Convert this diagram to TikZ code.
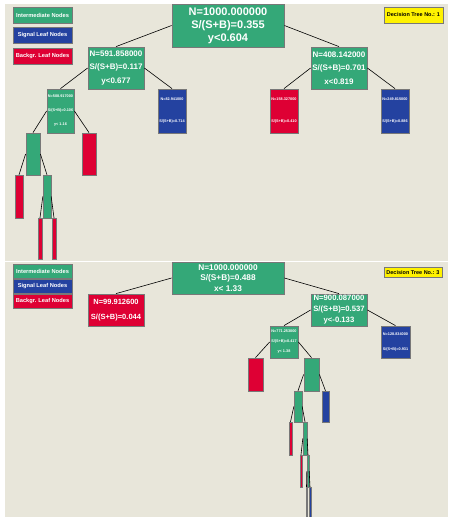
\documentclass[tikz,border=0pt]{standalone}
\usepackage{fontspec}
\setmainfont{Liberation Sans}
\usepackage{xcolor}
\usetikzlibrary{positioning}

\definecolor{nodegreen}{RGB}{52,168,120}
\definecolor{nodeblue}{RGB}{36,66,160}
\definecolor{nodered}{RGB}{222,0,52}
\definecolor{panelbg}{RGB}{232,230,218}
\definecolor{framegray}{RGB}{120,120,120}

\begin{document}
\begin{tikzpicture}[
    x=1pt, y=-1pt,
    box/.style={draw=framegray, line width=0.8pt, rectangle, inner sep=0pt, align=center, text=white},
    inter/.style={box, fill=nodegreen},
    sigleaf/.style={box, fill=nodeblue},
    bkgleaf/.style={box, fill=nodered},
    tag/.style={draw=framegray, line width=0.8pt, rectangle, inner sep=0pt, fill=yellow, text=black},
    sz/.style 2 args={minimum width=#1pt, minimum height=#2pt},
    txt/.style 2 args={font=\fontsize{#1}{#2}\selectfont\bfseries},
    slim/.style={line width=0.35pt},
    edge/.style={black, line width=0.6pt}
]
\useasboundingbox (0,0) rectangle (448,517);
\fill[white] (0,0) rectangle (448,517);
\fill[panelbg] (5,4) rectangle (448,260.5);
\fill[panelbg] (5,262) rectangle (448,517);

% tree 1
\node[inter, sz={59}{16}, txt={5.7}{7}] (legA) at (42.5,15) {Intermediate Nodes};
\node[sigleaf, sz={59}{16}, txt={5.7}{7}] (legB) at (42.5,35) {Signal Leaf Nodes};
\node[bkgleaf, sz={59}{16}, txt={5.7}{7}] (legC) at (42.5,56) {Backgr. Leaf Nodes};
\node[tag, sz={59}{16}, txt={5.5}{7}] (treeA) at (413.5,15) {Decision Tree No.: 1};

\node[inter, sz={112}{43}, txt={11}{13}] (root) at (228,25.5) {N=1000.000000\\S/(S+B)=0.355\\y<0.604};
\node[inter, sz={56}{42}, txt={8}{13.5}] (nL) at (116,68) {N=591.858000\\S/(S+B)=0.117\\y<0.677};
\node[inter, sz={56}{42}, txt={8}{13.5}] (nR) at (339,68) {N=408.142000\\S/(S+B)=0.701\\x<0.819};
\node[inter, sz={27}{44}, txt={3.8}{14}] (nLL) at (60.5,111) {N=508.917000\\S/(S+B)=0.106\\y< 1.16};
\node[sigleaf, sz={28}{44}, txt={3.8}{22}] (nLR) at (172,111) {N=82.941000\\S/(S+B)=0.714};
\node[bkgleaf, sz={28}{44}, txt={3.8}{22}] (nRL) at (284,111) {N=158.327000\\S/(S+B)=0.410};
\node[sigleaf, sz={28}{44}, txt={3.8}{22}] (nRR) at (395,111) {N=249.815000\\S/(S+B)=0.886};
\node[inter, sz={14}{42}] (nLLL) at (33,154) {};
\node[bkgleaf, sz={14}{42}] (nLLR) at (89,154) {};
\node[bkgleaf, slim, sz={8}{43}] (nLLLL) at (19,196.5) {};
\node[inter, slim, sz={8}{43}] (nLLLR) at (47,196.5) {};
\node[bkgleaf, slim, sz={4}{41}] (nLLLRL) at (40,238.5) {};
\node[bkgleaf, slim, sz={4}{41}] (nLLLRR) at (54,238.5) {};

\draw[edge] (root.west) -- (nL.north);
\draw[edge] (root.east) -- (nR.north);
\draw[edge] (nL.west) -- (nLL.north);
\draw[edge] (nL.east) -- (nLR.north);
\draw[edge] (nR.west) -- (nRL.north);
\draw[edge] (nR.east) -- (nRR.north);
\draw[edge] (nLL.west) -- (nLLL.north);
\draw[edge] (nLL.east) -- (nLLR.north);
\draw[edge] (nLLL.west) -- (nLLLL.north);
\draw[edge] (nLLL.east) -- (nLLLR.north);
\draw[edge] (nLLLR.west) -- (nLLLRL.north);
\draw[edge] (nLLLR.east) -- (nLLLRR.north);

% tree 3
\node[inter, sz={59}{14}, txt={5.7}{7}] (legD) at (42.5,271) {Intermediate Nodes};
\node[sigleaf, sz={59}{14}, txt={5.7}{7}] (legE) at (42.5,286.5) {Signal Leaf Nodes};
\node[bkgleaf, sz={59}{14}, txt={5.7}{7}] (legF) at (42.5,301.5) {Backgr. Leaf Nodes};
\node[tag, sz={58}{10}, txt={5.5}{7}] (treeB) at (413,272.5) {Decision Tree No.: 3};

\node[inter, sz={112}{32}, txt={8.3}{10.5}] (top) at (228,278) {N=1000.000000\\S/(S+B)=0.488\\x< 1.33};
\node[bkgleaf, sz={56}{32}, txt={7.5}{15}] (mL) at (116,310) {N=99.912600\\S/(S+B)=0.044};
\node[inter, sz={56}{32}, txt={7.7}{11}] (mR) at (339,310) {N=900.087000\\S/(S+B)=0.537\\y<-0.133};
\node[inter, sz={28}{32}, txt={3.8}{10}] (mRL) at (284,342) {N=771.253000\\S/(S+B)=0.417\\y< 1.38};
\node[sigleaf, sz={29}{32}, txt={3.8}{15}] (mRR) at (395.5,342) {N=128.834000\\S/(S+B)=0.931};
\node[bkgleaf, sz={15}{33}] (mRLL) at (255.5,374.5) {};
\node[inter, sz={15}{33}] (mRLR) at (311.5,374.5) {};
\node[inter, slim, sz={8}{31}] (mA) at (298,406.5) {};
\node[sigleaf, slim, sz={7}{31}] (mB) at (325.5,406.5) {};
\node[bkgleaf, slim, sz={3}{33}] (mAL) at (290.5,438.5) {};
\node[inter, slim, sz={4}{33}] (mAR) at (305,438.5) {};
\node[bkgleaf, slim, sz={2}{32}] (mARL) at (301,471) {};
\node[inter, slim, sz={2}{32}] (mARR) at (308,471) {};
\node[sigleaf, slim, sz={1.5}{30}] (mX) at (306.5,502) {};
\node[sigleaf, slim, sz={1.5}{30}] (mY) at (310,502) {};

\draw[edge] (top.west) -- (mL.north);
\draw[edge] (top.east) -- (mR.north);
\draw[edge] (mR.west) -- (mRL.north);
\draw[edge] (mR.east) -- (mRR.north);
\draw[edge] (mRL.west) -- (mRLL.north);
\draw[edge] (mRL.east) -- (mRLR.north);
\draw[edge] (mRLR.west) -- (mA.north);
\draw[edge] (mRLR.east) -- (mB.north);
\draw[edge] (mA.west) -- (mAL.north);
\draw[edge] (mA.east) -- (mAR.north);
\draw[edge] (mAR.west) -- (mARL.north);
\draw[edge] (mAR.east) -- (mARR.north);
\draw[edge] (mARR.west) -- (mX.north);
\draw[edge] (mARR.east) -- (mY.north);
\end{tikzpicture}
\end{document}
